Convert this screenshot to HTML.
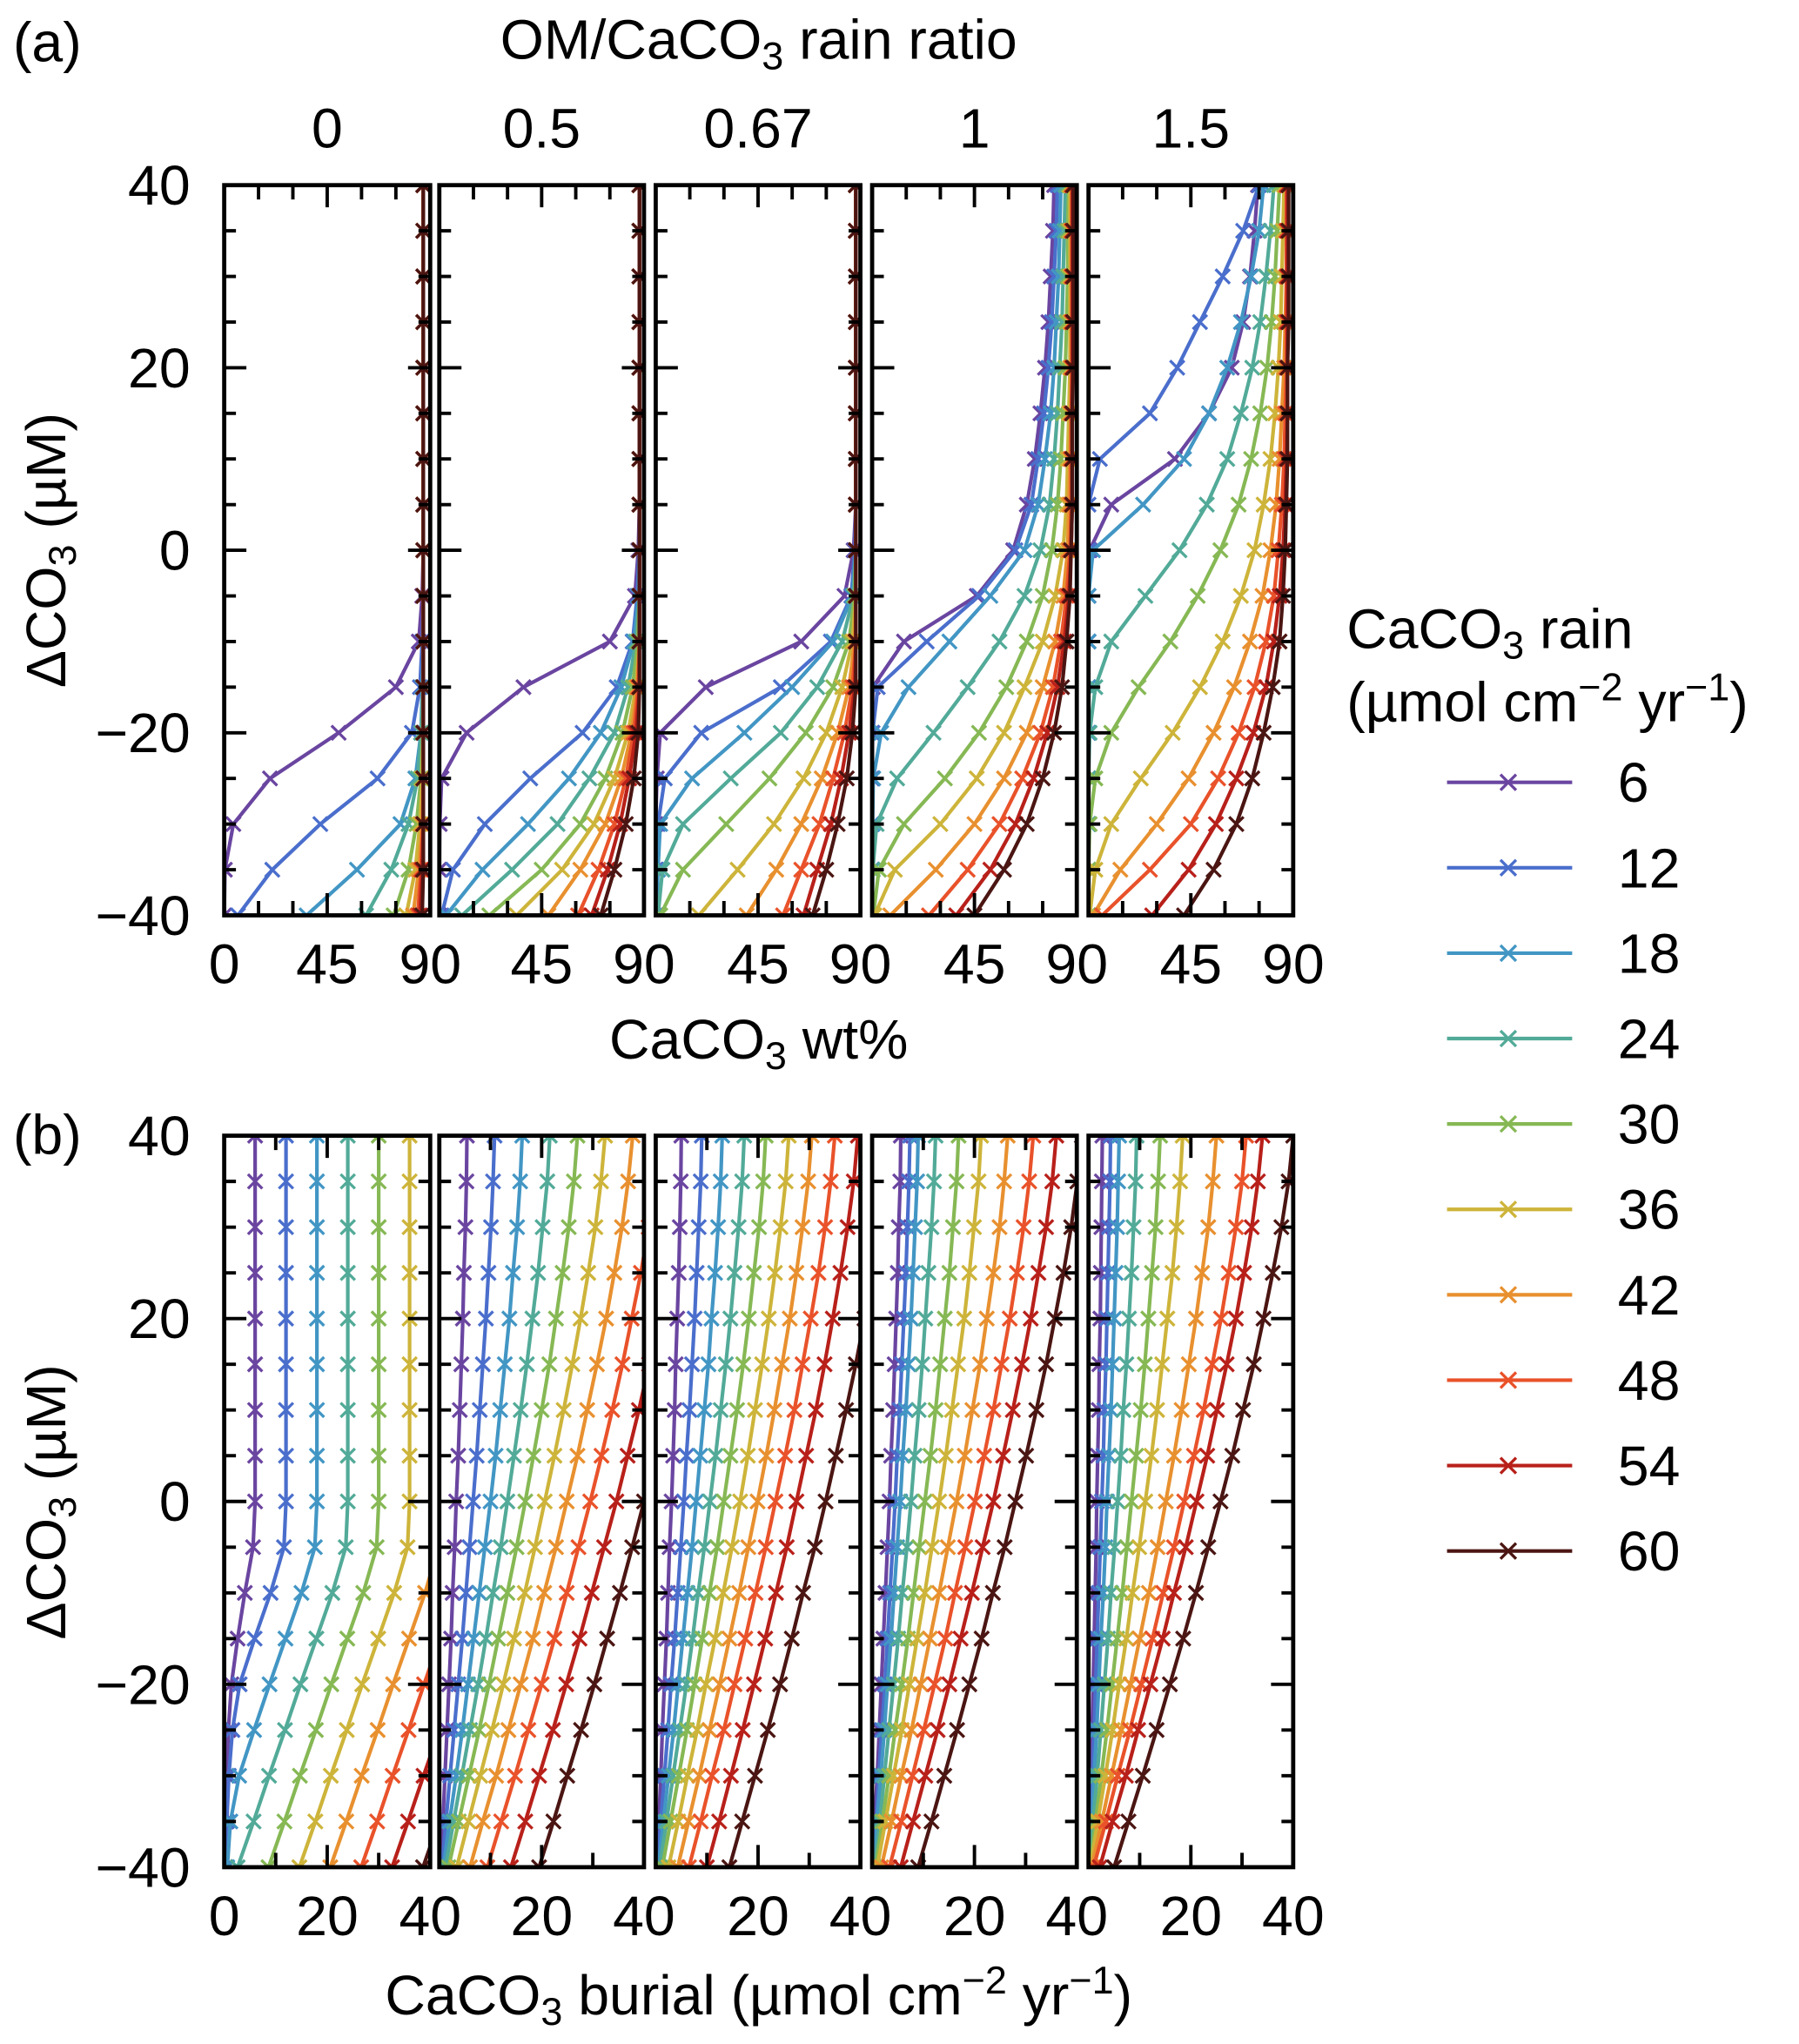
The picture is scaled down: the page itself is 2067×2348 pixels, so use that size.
<!DOCTYPE html>
<html><head><meta charset="utf-8"><title>CaCO3 chart</title>
<style>
html,body{margin:0;padding:0;background:#fff;}
svg{display:block;font-family:"Liberation Sans",Arial,sans-serif;}
</style></head>
<body>
<svg id="chart" xmlns="http://www.w3.org/2000/svg" width="2067" height="2348" viewBox="0 0 1380 1567.6">
<rect x="0" y="0" width="1380" height="1567.6" fill="#fff"/>
<text x="10" y="47" font-size="43">(a)</text>
<text x="10" y="885" font-size="43">(b)</text>
<text x="582" y="45" font-size="43" text-anchor="middle">OM/CaCO<tspan font-size="30" dy="8">3</tspan><tspan dy="-8"> rain ratio</tspan></text>
<text x="582" y="812" font-size="43" text-anchor="middle">CaCO<tspan font-size="30" dy="8">3</tspan><tspan dy="-8"> wt%</tspan></text>
<text x="582" y="1545" font-size="43" text-anchor="middle">CaCO<tspan font-size="30" dy="8">3</tspan><tspan dy="-8"> burial (µmol cm</tspan><tspan font-size="30" dy="-16">−2</tspan><tspan dy="16"> yr</tspan><tspan font-size="30" dy="-16">−1</tspan><tspan dy="16">)</tspan></text>
<text transform="translate(50,422) rotate(-90)" font-size="43" text-anchor="middle">ΔCO<tspan font-size="30" dy="8">3</tspan><tspan dy="-8"> (µM)</tspan></text>
<text transform="translate(50,1152) rotate(-90)" font-size="43" text-anchor="middle">ΔCO<tspan font-size="30" dy="8">3</tspan><tspan dy="-8"> (µM)</tspan></text>
<text x="1033" y="497" font-size="43">CaCO<tspan font-size="30" dy="8">3</tspan><tspan dy="-8"> rain</tspan></text>
<text x="1033" y="553" font-size="43">(µmol cm<tspan font-size="30" dy="-16">−2</tspan><tspan dy="16"> yr</tspan><tspan font-size="30" dy="-16">−1</tspan><tspan dy="16">)</tspan></text>
<g id="plots"></g>
<g id="legend"></g>
</svg>
<script>
const dco3=[-40,-35,-30,-25,-20,-15,-10,-5,0,5,10,15,20,25,30,35,40];
const rainRates=[6,12,18,24,30,36,42,48,54,60];
const ratioLabels=["0","0.5","0.67","1","1.5"];
const colors=["#6a45a0","#4a6ecc","#4296c4","#52aa98","#86b854","#cdb43a","#e8902f","#e9522a","#b8201a","#4a1512"];

const wt_r0=[
[0,0.3,4,20,50,75,85,86.5,87,87,87,87,87,87,87,87,87],
[6,21,42,67,82,85.5,86.5,87,87,87,87,87,87,87,87,87,87],
[36,58,77,83.5,86,86.5,87,87,87,87,87,87,87,87,87,87,87],
[62,73,80.5,84.5,86,86.8,87,87,87,87,87,87,87,87,87,87,87],
[74,80.5,84,86,86.8,87,87,87,87,87,87,87,87,87,87,87,87],
[79.5,83.5,85.5,86.5,87,87,87,87,87,87,87,87,87,87,87,87,87],
[82.5,85,86.5,87,87,87,87,87,87,87,87,87,87,87,87,87,87],
[84.5,86,86.8,87,87,87,87,87,87,87,87,87,87,87,87,87,87],
[85.5,86.5,87,87,87,87,87,87,87,87,87,87,87,87,87,87,87],
[86.5,87,87,87,87,87,87,87,87,87,87,87,87,87,87,87,87]];
const wt_r05=[
[0,0,0.2,1,12,37,75,86,87.5,88,88,88,88,88,88,88,88],
[1,6,20,40,63,78,85,87,87.8,88,88,88,88,88,88,88,88],
[3,19,39,57,71,80,85.5,87.5,88,88,88,88,88,88,88,88,88],
[10,32,52,66,77,83,86.5,88,88,88,88,88,88,88,88,88,88],
[22,45,62,73,80.5,85,87.3,88,88,88,88,88,88,88,88,88,88],
[34,54,68,77,83,86.5,88,88,88,88,88,88,88,88,88,88,88],
[48,62,73,80,84.5,87,88,88,88,88,88,88,88,88,88,88,88],
[61,70,77,82,85.5,87.5,88,88,88,88,88,88,88,88,88,88,88],
[67,74,79.5,83.5,86.5,88,88,88,88,88,88,88,88,88,88,88,88],
[71,77,82,85.5,87.5,88,88,88,88,88,88,88,88,88,88,88,88]];
const wt_r067=[
[0,0,0,0.5,2,22,64,83,87,88,88,88,88,88,88,88,88],
[0,0.3,1,4,20,55,77,86,87.5,88,88,88,88,88,88,88,88],
[0.3,1,2,16,39,60,78,86.5,88,88,88,88,88,88,88,88,88],
[1,3,12,33,55,71,82,87,88,88,88,88,88,88,88,88,88],
[2,12,31,50,66,78,85,87.5,88,88,88,88,88,88,88,88,88],
[19,36,52,65,75,82,86.5,88,88,88,88,88,88,88,88,88,88],
[40,53,64,73,80,85,87.5,88,88,88,88,88,88,88,88,88,88],
[56,64,72,78,83,86.5,88,88,88,88,88,88,88,88,88,88,88],
[65,71,77,81.5,85,87.5,88,88,88,88,88,88,88,88,88,88,88],
[69,75,80,84,86.5,88,88,88,88,88,88,88,88,88,88,88,88]];
const wt_r1=[
[0,0,0,0,0,0.3,14,46,62,68,71.5,74,76,77.5,78.5,79.5,80],
[0,0,0,0,0.2,2.5,24,47,63,70,73,75.5,77.5,79,80,81,81.5],
[0,0,0.2,0.5,4,16,34,52,67,73,76,78.5,80,81,82,82.5,83],
[0,0.3,2,11,27,42,56,67,74,78,80,81.5,82.5,83.5,84,84.5,85],
[0.5,3,14,32,47,59,68,75,79,81.5,83,84,85,85.5,86,86,86.5],
[1,10,30,46,58,67,75,80.5,84,85.5,86,86.5,87,87,87,87,87],
[8,28,45,58,68,75,80.5,84,86,86.5,87,87.5,87.5,87.5,87.5,87.5,87.5],
[25,42,56,66,74,79.5,83,85.5,87,87.5,87.5,87.5,88,88,88,88,88],
[37,52,63,71,77,81.5,84.5,86.5,87.5,88,88,88,88,88,88,88,88],
[45,58,68,75,80,83.5,85.5,87,87.5,88,88,88,88.5,88.5,88.5,88.5,88.5]];
const wt_r15=[
[0,0,0,0,0,0,0,0,0.5,10,38,53,63,68,71,73,74.5],
[0,0,0,0,0,0,0,0,0,0,5,27,39,49,59,68,75],
[0,0,0,0,0,0,0,0,2,24,42,53,61,67,71.5,75,77],
[0,0,0,0,0.5,3,10,25,40,52,61,67,72,75.5,78,80,81.5],
[0,0,0.5,3,10,22,36,48,58,66,71.5,75.5,78.5,80.5,82,83,84],
[0.5,3,10,23,37,49,59,67,73,77,80,82,83.5,84.5,85,85.5,86],
[2,14,30,44,55,64,71,76.5,80,82.5,84,85,86,86.5,87,87,87],
[6,27,45,57,66,73,78,81.5,83.5,85,86,86.5,87,87,87,87,87],
[28,44,56,65,72.5,78,81.5,84,85.5,86.5,87,87.5,87.5,87.5,87.5,87.5,87.5],
[42,55,65,72,77,81,84,85.5,86.5,87,87.5,87.5,87.5,88,88,88,88]];

const bur_r0=[
[0.2,0.3,0.5,0.8,1.4,2.6,4.0,5.6,6,6,6,6,6,6,6,6,6],
[0.3,0.5,0.9,1.6,3.0,5.9,9.0,11.6,12,12,12,12,12,12,12,12,12],
[0.6,1.2,2.9,5.8,8.8,11.9,15,17.6,18,18,18,18,18,18,18,18,18],
[2.6,5.7,8.7,11.8,14.8,17.9,21,23.6,24,24,24,24,24,24,24,24,24],
[8.6,11.7,14.7,17.8,20.8,23.9,27,29.6,30,30,30,30,30,30,30,30,30],
[14.6,17.7,20.7,23.8,26.8,29.9,33,35.6,36,36,36,36,36,36,36,36,36],
[20.6,23.7,26.7,29.8,32.8,35.9,39,41.6,42,42,42,42,42,42,42,42,42],
[26.6,29.7,32.7,35.8,38.8,41.9,45,47.6,48,48,48,48,48,48,48,48,48],
[32.6,35.7,38.7,41.8,44.8,47.9,51,53.6,54,54,54,54,54,54,54,54,54],
[38.6,41.7,44.7,47.8,50.8,53.9,57,59.6,60,60,60,60,60,60,60,60,60]];
const bur_r05=[
[0.3,0.7,1.1,1.5,1.9,2.3,2.6,3.0,3.3,3.7,4.0,4.3,4.6,4.8,5.1,5.3,5.4],
[0.5,1.3,2.1,2.9,3.7,4.5,5.2,5.9,6.6,7.3,7.9,8.5,9.1,9.6,10.1,10.5,10.8],
[0.8,2.0,3.3,4.5,5.6,6.7,7.8,8.9,10.0,11.0,11.9,12.8,13.7,14.4,15.2,15.8,16.2],
[1.2,2.8,4.4,6.0,7.6,9.1,10.5,12.0,13.3,14.6,15.9,17.1,18.2,19.3,20.2,21.1,21.6],
[1.8,3.8,5.8,7.8,9.7,11.5,13.3,15.1,16.8,18.4,20.0,21.5,22.8,24.1,25.3,26.3,27],
[3.4,5.7,8.0,10.3,12.5,14.6,16.7,18.7,20.6,22.5,24.3,26.0,27.6,29.1,30.5,31.6,32.4],
[6.0,8.5,11.1,13.5,15.9,18.3,20.5,22.8,24.9,27.0,28.9,30.8,32.6,34.2,35.7,36.9,37.8],
[9.4,12.1,14.8,17.4,20.0,22.5,24.9,27.2,29.5,31.7,33.8,35.8,37.6,39.4,40.9,42.3,43.2],
[14,16.8,19.5,22.2,24.8,27.4,29.8,32.2,34.6,36.8,39.0,41.0,42.9,44.7,46.3,47.7,48.6],
[19.5,22.3,25.0,27.7,30.3,32.8,35.3,37.7,40.0,42.2,44.4,46.4,48.3,50.1,51.7,53.1,54]];
const bur_r067=[
[0.2,0.6,1.0,1.3,1.7,2.1,2.4,2.7,3.1,3.4,3.7,3.9,4.2,4.5,4.7,4.9,5],
[0.3,1.0,1.7,2.4,3.0,3.7,4.3,4.9,5.5,6.0,6.6,7.1,7.6,8.0,8.4,8.8,9],
[0.5,1.5,2.5,3.5,4.4,5.3,6.2,7.1,7.9,8.7,9.5,10.3,10.9,11.6,12.2,12.7,13],
[0.8,2.1,3.4,4.7,6.0,7.2,8.3,9.5,10.6,11.7,12.7,13.7,14.6,15.4,16.2,16.9,17.3],
[1.3,2.9,4.5,6.1,7.6,9.1,10.5,12.0,13.3,14.6,15.9,17.1,18.2,19.2,20.2,21.0,21.5],
[2.5,4.4,6.2,8.1,9.8,11.6,13.2,14.9,16.5,18.0,19.4,20.8,22.1,23.3,24.4,25.4,26],
[4.3,6.4,8.5,10.5,12.5,14.4,16.3,18.1,19.9,21.6,23.2,24.7,26.2,27.5,28.7,29.8,30.5],
[6.5,8.8,11.0,13.3,15.4,17.5,19.5,21.5,23.4,25.3,27.1,28.7,30.3,31.8,33.1,34.2,35],
[10,12.4,14.7,17.0,19.2,21.4,23.5,25.6,27.5,29.4,31.3,33.0,34.6,36.1,37.5,38.7,39.5],
[14.4,16.9,19.4,21.9,24.3,26.6,28.8,31.1,33.2,35.2,37.2,39.1,40.8,42.4,43.9,45.2,46]];
const bur_r1=[
[0.1,0.5,1.0,1.4,1.8,2.2,2.6,3.0,3.4,3.7,4.1,4.4,4.7,5.0,5.2,5.5,5.6],
[0.2,0.8,1.3,1.9,2.5,3.0,3.5,4.0,4.5,4.9,5.4,5.8,6.2,6.6,6.9,7.2,7.4],
[0.3,1.0,1.7,2.4,3.0,3.7,4.3,4.9,5.5,6.0,6.6,7.1,7.6,8.0,8.4,8.8,9],
[0.5,1.5,2.4,3.3,4.2,5.1,5.9,6.8,7.6,8.3,9.1,9.8,10.4,11.0,11.6,12.1,12.4],
[0.7,2.0,3.3,4.5,5.8,7.0,8.1,9.2,10.3,11.4,12.4,13.3,14.2,15.1,15.8,16.5,16.9],
[1.0,2.6,4.2,5.8,7.3,8.8,10.3,11.7,13.1,14.4,15.6,16.8,18.0,19.0,19.9,20.8,21.3],
[1.8,3.8,5.7,7.7,9.5,11.3,13.1,14.8,16.5,18.1,19.6,21.1,22.4,23.7,24.9,25.8,26.5],
[3.4,5.7,7.9,10.1,12.2,14.3,16.2,18.2,20.1,21.9,23.7,25.3,26.9,28.3,29.6,30.7,31.5],
[5.6,8.0,10.4,12.8,15.1,17.3,19.5,21.6,23.7,25.6,27.5,29.3,31.0,32.5,34.0,35.2,36],
[9,11.6,14.1,16.6,19.0,21.4,23.6,25.9,28.0,30.1,32.1,34.0,35.7,37.4,38.9,40.1,41]];
const bur_r15=[
[0.1,0.3,0.5,0.7,0.9,1.1,1.3,1.5,1.6,1.8,2.0,2.1,2.3,2.4,2.5,2.6,2.7],
[0.1,0.4,0.8,1.1,1.4,1.7,2.0,2.3,2.6,2.9,3.1,3.4,3.6,3.8,4.0,4.2,4.3],
[0.2,0.7,1.1,1.6,2.0,2.4,2.9,3.3,3.6,4.0,4.4,4.7,5.0,5.3,5.6,5.8,6],
[0.2,0.9,1.7,2.4,3.1,3.8,4.4,5.1,5.7,6.3,6.8,7.4,7.9,8.4,8.8,9.2,9.4],
[0.3,1.4,2.5,3.6,4.6,5.6,6.6,7.5,8.4,9.3,10.2,11.0,11.7,12.4,13.1,13.6,14],
[0.4,1.8,3.3,4.7,6.0,7.4,8.6,9.9,11.1,12.3,13.4,14.4,15.4,16.4,17.2,17.9,18.4],
[0.6,2.6,4.5,6.4,8.2,10.0,11.8,13.5,15.1,16.7,18.2,19.6,21.0,22.2,23.4,24.3,25],
[1,3.4,5.7,8.1,10.3,12.5,14.6,16.7,18.7,20.6,22.5,24.2,25.9,27.4,28.8,30.0,30.8],
[2.2,4.7,7.3,9.7,12.1,14.5,16.7,19.0,21.1,23.2,25.1,27.0,28.8,30.4,31.9,33.1,34],
[5,7.8,10.6,13.3,15.9,18.5,21.0,23.4,25.8,28.1,30.2,32.3,34.2,36.0,37.7,39.1,40]];

const wtData=[wt_r0,wt_r05,wt_r067,wt_r1,wt_r15];
const burData=[bur_r0,bur_r05,bur_r067,bur_r1,bur_r15];

const NS="http://www.w3.org/2000/svg";
const panelX=[[172,330],[337,494],[503,660],[669,826],[835,992]];
const rowA={top:142,bottom:702};
const rowB={top:871,bottom:1432};
const plots=document.getElementById('plots');
function mk(tag,attrs,parent){const e=document.createElementNS(NS,tag);for(const k in attrs)e.setAttribute(k,attrs[k]);parent.appendChild(e);return e;}
function yScale(row,v){return row.bottom-(v+40)/80*(row.bottom-row.top);}
function xScale(p,max,v){return panelX[p][0]+v/max*(panelX[p][1]-panelX[p][0]);}
const defs=mk('defs',{},plots);

function drawRow(row,data,xmax,xMinorStep,xMajor,xLabels,rowName){
  for(let p=0;p<5;p++){
    const [x0,x1]=panelX[p];
    const cid='clip-'+rowName+'-'+p;
    const cp=mk('clipPath',{id:cid},defs);
    mk('rect',{x:x0,y:row.top,width:x1-x0,height:row.bottom-row.top},cp);
    const g=mk('g',{},plots);
    
    
    const sg=mk('g',{'clip-path':'url(#'+cid+')'},g);
    for(let s=0;s<rainRates.length;s++){
      const vals=data[p][s];
      let d='';
      for(let i=0;i<dco3.length;i++){
        const px=xScale(p,xmax,vals[i]),py=yScale(row,dco3[i]);
        d+=(i?'L':'M')+px.toFixed(2)+' '+py.toFixed(2);
      }
      const line=mk('path',{d:d,fill:'none',stroke:colors[s],'stroke-width':2.8,'stroke-linejoin':'round'},sg);
      
      
      let md='';
      const h=5.5;
      for(let i=0;i<dco3.length;i++){
        const px=xScale(p,xmax,vals[i]),py=yScale(row,dco3[i]);
        md+='M'+(px-h).toFixed(2)+' '+(py-h).toFixed(2)+'L'+(px+h).toFixed(2)+' '+(py+h).toFixed(2)+'M'+(px-h).toFixed(2)+' '+(py+h).toFixed(2)+'L'+(px+h).toFixed(2)+' '+(py-h).toFixed(2);
      }
      const mks=mk('path',{d:md,fill:'none',stroke:colors[s],'stroke-width':2.2},sg);
      
      
    }
    let td='';
    for(let v=-40;v<=40;v+=5){
      const y=yScale(row,v);const L=(v%20===0)?17:9;
      td+='M'+x0+' '+y+'h'+L+'M'+x1+' '+y+'h'+(-L);
    }
    for(let v=0;v<=xmax;v+=xMinorStep){
      const x=xScale(p,xmax,v);const L=(v%xMajor===0)?17:11;
      td+='M'+x+' '+row.bottom+'v'+(-L)+'M'+x+' '+row.top+'v'+L;
    }
    const ticks=mk('path',{d:td,stroke:'#000','stroke-width':2.6,fill:'none'},g);
    
    
    const fr=mk('rect',{x:x0,y:row.top,width:x1-x0,height:row.bottom-row.top,fill:'none',stroke:'#000','stroke-width':3.2},g);
    
    
    xLabels.forEach(v=>{
      if(p>0&&v===0)return;
      const t=mk('text',{x:xScale(p,xmax,v),y:row.bottom+52,'font-size':43,'text-anchor':'middle'},g);
      t.textContent=String(v);
      
      
    });
  }
  [40,20,0,-20,-40].forEach(v=>{
    const t=mk('text',{x:146,y:yScale(row,v)+15,'font-size':43,'text-anchor':'end'},plots);
    t.textContent=v<0?'−'+Math.abs(v):String(v);
    
    
  });
}
drawRow(rowA,wtData,90,15,45,[0,45,90],'wt');
drawRow(rowB,burData,40,10,20,[0,20,40],'burial');

for(let p=0;p<5;p++){
  const t=mk('text',{x:(panelX[p][0]+panelX[p][1])/2,y:113,'font-size':43,'text-anchor':'middle'},plots);
  t.textContent=ratioLabels[p];
  
  
}
const lg=document.getElementById('legend');
for(let s=0;s<rainRates.length;s++){
  const y=600+65.5*s;
  const g=mk('g',{},lg);
  
  
  mk('line',{x1:1110,y1:y,x2:1206,y2:y,stroke:colors[s],'stroke-width':2.8},g);
  mk('path',{d:'M1151 '+(y-6)+'l12 12M1151 '+(y+6)+'l12 -12',stroke:colors[s],'stroke-width':2.2,fill:'none'},g);
  const t=mk('text',{x:1241,y:y+15,'font-size':43},g);
  t.textContent=String(rainRates[s]);
}
</script>
</body></html>
